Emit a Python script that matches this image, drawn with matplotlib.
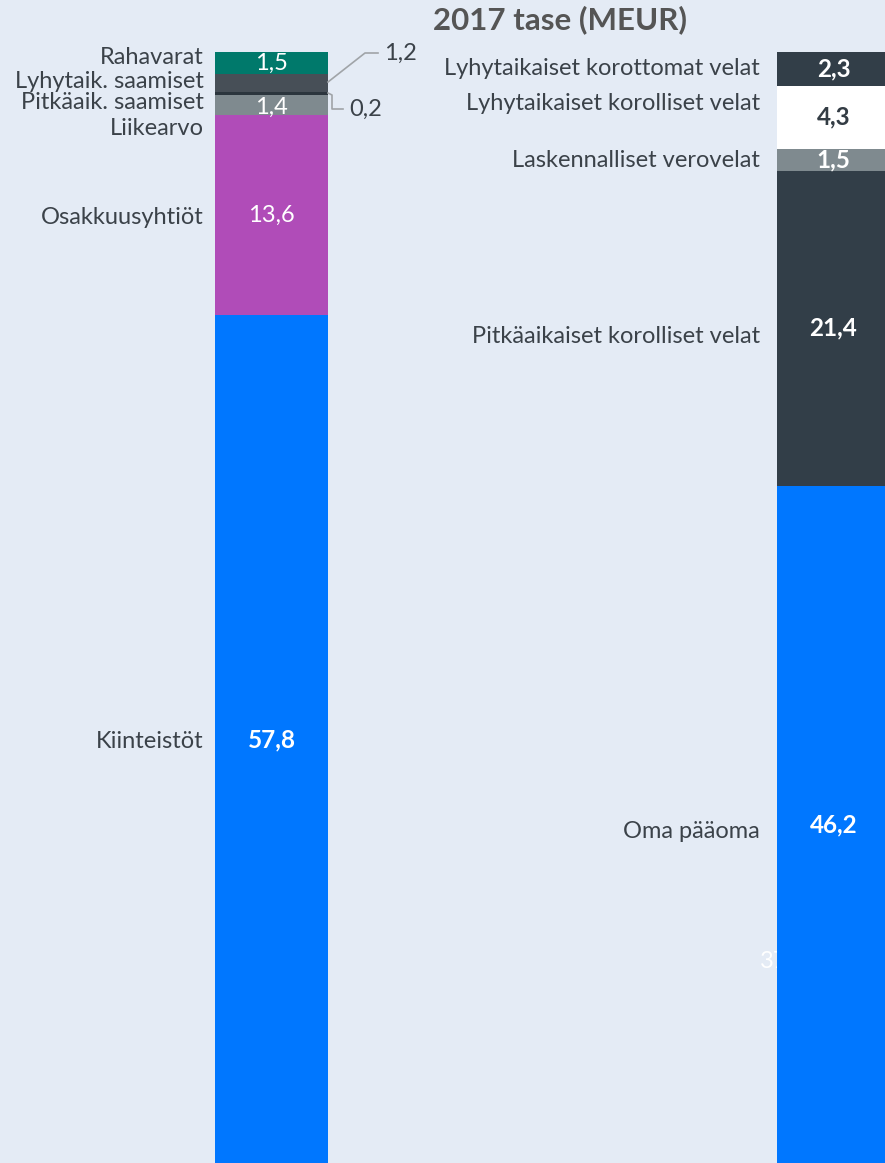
import matplotlib.pyplot as plt
import numpy as np

plt.rcParams['font.family'] = ['Lato', 'DejaVu Sans']

# vastaavaa (vasen pylväs), ylhäältä alas
assets = ['Rahavarat', 'Lyhytaik. saamiset', 'Liikearvo', 'Pitkäaik. saamiset',
          'Osakkuusyhtiöt', 'Kiinteistöt']
asset_vals = [1.5, 1.2, 0.2, 1.4, 13.6, 57.8]
asset_txt = ['1,5', '1,2', '0,2', '1,4', '13,6', '57,8']

# vastattavaa (oikea pylväs)
liabs = ['Lyhytaikaiset korottomat velat', 'Lyhytaikaiset korolliset velat',
         'Laskennalliset verovelat', 'Pitkäaikaiset korolliset velat', 'Oma pääoma']
liab_vals = [2.3, 4.3, 1.5, 21.4, 46.2]
liab_txt = ['2,3', '4,3', '1,5', '21,4', '46,2']

bg = '#e4ebf5'
txt = '#3b4249'
asset_cols = ['#00796b', '#474f57', '#2b353d', '#7f8a8f', '#b04cb8', '#0077ff']
liab_cols = ['#323e48', '#ffffff', '#7f8a8f', '#323e48', '#0077ff']

W, H = 885, 1163
pxu = 14.7   # pikseliä / MEUR
top = 52
fs = 17
fsb = 17.5

fig = plt.figure(figsize=(W/100, H/100), dpi=100, facecolor=bg)
ax = fig.add_axes([0, 0, 1, 1], facecolor=bg)
ax.set_xlim(0, W)
ax.set_ylim((H - top) / pxu, -top / pxu)
ax.axis('off')

def py(p):
    # pikseli -> data
    return (p - top) / pxu

xl, xr, bw = 271.5, 833.5, 113

# piilossa oleva teksti oikean pylvään takana
ax.text(760, py(962), '37', color='white', fontsize=fs, va='center', ha='left', zorder=1)

ab = np.cumsum([0] + asset_vals[:-1])
ax.bar([xl]*len(asset_vals), asset_vals, bottom=ab, width=bw, color=asset_cols, zorder=2)
lb = np.cumsum([0] + liab_vals[:-1])
ax.bar([xr]*len(liab_vals), liab_vals, bottom=lb, width=bw, color=liab_cols, zorder=2)

ac = ab + np.array(asset_vals) / 2
lc = lb + np.array(liab_vals) / 2

# nimien pikselipaikat
asset_lab_px = [57, 81, 128, 102, 217, 741]
for i in range(len(assets)):
    ax.text(204, py(asset_lab_px[i]), assets[i], ha='right', va='center',
            fontsize=fs, color=txt, zorder=3)

# arvot palkeissa
for i, w in [(0, 'normal'), (3, 'normal'), (4, 'normal'), (5, 'bold')]:
    dy = 0.15 if i == 3 else 0
    ax.text(xl, ac[i] + dy, asset_txt[i], ha='center', va='center',
            fontsize=fsb if w == 'bold' else fs,
            color='white', fontweight=w, zorder=3)

# pienet arvot viivoilla
ax.plot([328, 365, 378], [py(82), py(53), py(53)], color='#a0a4a8', lw=1.2, zorder=3)
ax.text(384, py(53), asset_txt[1], ha='left', va='center', fontsize=fs, color=txt)
ax.plot([328, 332, 332, 343], [py(93), py(95), py(109), py(109)], color='#a0a4a8', lw=1.2, zorder=3)
ax.text(349, py(109), asset_txt[2], ha='left', va='center', fontsize=fs, color=txt)

liab_lab_px = [68, 103, 160, 336, 831]
for i in range(len(liabs)):
    ax.text(760, py(liab_lab_px[i]), liabs[i], ha='right', va='center',
            fontsize=fs, color=txt, zorder=3)
    c = '#333c44' if liab_cols[i] == '#ffffff' else 'white'
    ax.text(xr, lc[i], liab_txt[i], ha='center', va='center', fontsize=fsb,
            color=c, fontweight='bold', zorder=3)

ax.text(560, py(20), '2017 tase (MEUR)', ha='center', va='center', fontsize=22.5,
        fontweight='bold', color='#555555')

fig.savefig('out.png', dpi=100, facecolor=bg)
